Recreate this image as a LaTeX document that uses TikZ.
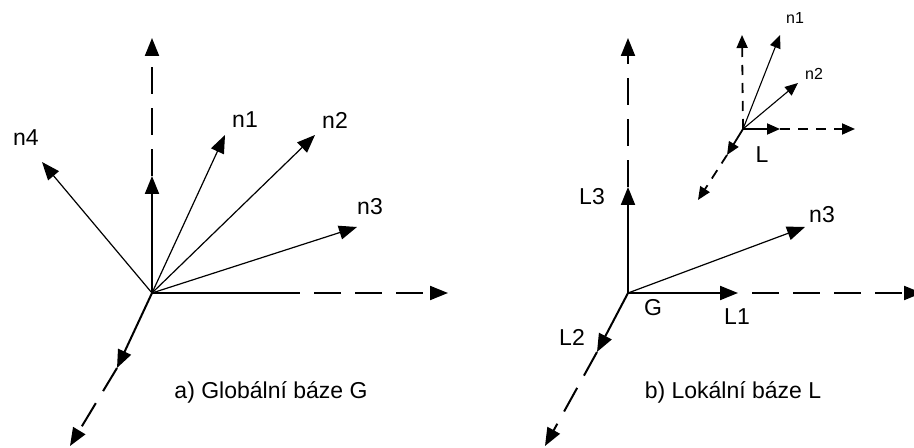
\documentclass[tikz,border=0pt]{standalone}
\usepackage{fontspec}
\setmainfont{Liberation Sans}
\usepackage{tikz}
\usetikzlibrary{arrows.meta}

\begin{document}
\begin{tikzpicture}[
  x=0.5pt, y=-0.5pt,
  vec/.style={-{Triangle[length=9pt, width=7pt]}, line width=0.6pt},
  axis/.style={-{Triangle[length=9pt, width=7pt]}, line width=1pt},
  dashaxis/.style={axis, dash pattern=on 13.5pt off 7pt},
  gapaxis/.style={dashaxis, dash phase=13.5pt},
  lvec/.style={-{Triangle[length=6.5pt, width=5.5pt]}, line width=0.55pt},
  laxis/.style={-{Triangle[length=6.5pt, width=5.5pt]}, line width=0.9pt},
  ldashaxis/.style={laxis, dash pattern=on 5pt off 4pt},
  lbl/.style={inner sep=0pt, font=\fontsize{11.5}{13}\selectfont},
  small/.style={inner sep=0pt, font=\fontsize{8}{9}\selectfont}
]
  \useasboundingbox (0,0) rectangle (914,448);

  % a) global base
  \coordinate (o)   at (152,293);
  \coordinate (gz)  at (152,38);
  \coordinate (gx)  at (448,293);
  \coordinate (gxs) at (300,293);
  \coordinate (gy)  at (70,446);
  \coordinate (ez)  at (152,176);
  \coordinate (ey)  at (117,368);

  \draw[dashaxis] (ez) -- (gz);
  \draw[gapaxis] (gxs) -- (gx);
  \draw[dashaxis] (ey) -- (gy);
  \draw[line width=1pt] (o) -- (gxs);
  \draw[axis] (o) -- (ez);
  \draw[axis] (o) -- (ey);

  \node[lbl] (n1) at (245,120) {n1};
  \node[lbl] (n2) at (335,120) {n2};
  \node[lbl] (n3) at (370,207) {n3};
  \node[lbl] (n4) at (26,138)  {n4};
  \coordinate (t1) at (225,135);
  \coordinate (t2) at (315,135);
  \coordinate (t3) at (357,227);
  \coordinate (t4) at (42,162);
  \foreach \t in {t1,t2,t3,t4}
    \draw[vec] (o) -- (\t);

  \node[lbl] (capa) at (271,392) {a) Globální báze G};

  % b) local base
  \coordinate (g)   at (628,293);
  \coordinate (bz)  at (628,38);
  \coordinate (bx)  at (922,293);
  \coordinate (by)  at (545,446);
  \coordinate (l1t) at (738,293);
  \coordinate (l2t) at (597,352);
  \coordinate (l3t) at (628,187);
  \coordinate (m3)  at (805,227);

  \draw[dashaxis] (l3t) -- (bz);
  \draw[gapaxis] (l1t) -- (bx);
  \draw[dashaxis] (l2t) -- (by);
  \draw[axis] (g) -- (l1t);
  \draw[axis] (g) -- (l2t);
  \draw[axis] (g) -- (l3t);
  \draw[vec] (g) -- (m3);

  \node[lbl] (lG)  at (653,308) {G};
  \node[lbl] (lL1) at (737,317) {L1};
  \node[lbl] (lL2) at (572,337) {L2};
  \node[lbl] (lL3) at (592,197) {L3};
  \node[lbl] (ln3) at (822,215) {n3};

  % frame L
  \coordinate (l)   at (743,129);
  \coordinate (lz)  at (742,35);
  \coordinate (lx)  at (855,129);
  \coordinate (ly)  at (698,200);
  \coordinate (lxs) at (780,129);
  \coordinate (lys) at (727,155);
  \coordinate (m1)  at (780,35);
  \coordinate (m2)  at (798,83);

  \draw[ldashaxis] (l) -- (lz);
  \draw[ldashaxis] (lxs) -- (lx);
  \draw[ldashaxis] (lys) -- (ly);
  \draw[laxis] (l) -- (lxs);
  \draw[laxis] (l) -- (lys);
  \draw[lvec] (l) -- (m1);
  \draw[lvec] (l) -- (m2);

  \node[small] (ln1) at (795,18) {n1};
  \node[small] (ln2) at (814,74) {n2};
  \node[lbl]   (lL)  at (762,155) {L};

  \node[lbl] (capb) at (733,392) {b) Lokální báze L};
\end{tikzpicture}
\end{document}
